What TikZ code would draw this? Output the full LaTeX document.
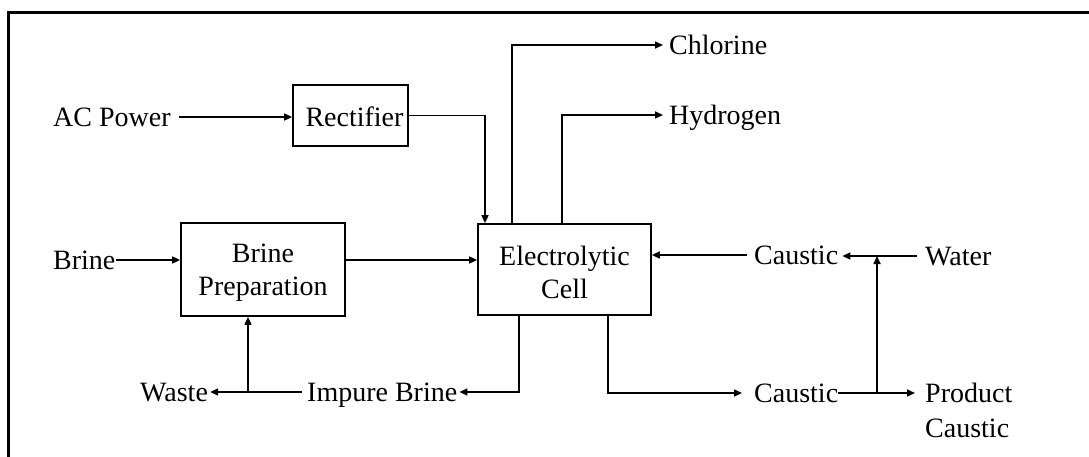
\documentclass[tikz,border=0pt]{standalone}
\usepackage{fontspec}
\setmainfont{Liberation Serif}
\usetikzlibrary{arrows.meta}
\begin{document}
\begin{tikzpicture}[x=1pt,y=-1pt,
  txt/.style={inner sep=0pt, text height=18.5pt, text depth=0pt, font=\fontsize{28}{33}\selectfont},
  txtml/.style={inner sep=0pt, align=left, font=\fontsize{28}{35}\selectfont},
  box/.style={draw, line width=1.7pt, inner sep=0pt},
  boxtext/.style={inner sep=0pt, align=center, font=\fontsize{28}{33}\selectfont},
  arr/.style={line width=1.6pt, -{Triangle[length=8pt,width=7pt]}}]
\useasboundingbox (0,0) rectangle (1089,457);
\draw[line width=3pt] (8.5,457) -- (8.5,12.5) -- (1089,12.5);
% boxes
\node[box, minimum width=115pt, minimum height=61pt] (rect) at (350.5,115.5) {};
\node[boxtext] (recttext) at ([xshift=4pt,yshift=-1pt]rect.center) {Rectifier};
\node[box, minimum width=164pt, minimum height=93pt] (prep) at (263,269.5) {};
\node[boxtext] (preptext) at ([yshift=-3pt]prep.center) {Brine\\Preparation};
\node[box, minimum width=173pt, minimum height=91pt] (cell) at (564.5,269.5) {};
\node[boxtext] (celltext) at ([yshift=-3pt]cell.center) {Electrolytic\\Cell};
% labels
\node[txt, anchor=west] (ac) at (53,117) {AC Power};
\node[txt, anchor=west] (cl) at (669,45) {Chlorine};
\node[txt, anchor=west] (h2) at (669,115) {Hydrogen};
\node[txt, anchor=west] (brine) at (53,260) {Brine};
\node[txt, anchor=west] (caus1) at (754,255) {Caustic};
\node[txt, anchor=west] (water) at (925,256) {Water};
\node[txt, anchor=west] (imp) at (307,392) {Impure Brine};
\node[txt, anchor=west] (waste) at (140,392) {Waste};
\node[txt, anchor=west] (caus2) at (754,393) {Caustic};
\node[txtml, anchor=north west] (prod) at (925,383) {Product\\Caustic};
% helper coordinates
\coordinate (rdown) at ([xshift=-79.5pt]cell.north);
\coordinate (clup) at ([xshift=-52.5pt]cell.north);
\coordinate (h2up) at ([xshift=-2.5pt]cell.north);
\coordinate (impdown) at ([xshift=-45.5pt]cell.south);
\coordinate (causdown) at ([xshift=43.5pt]cell.south);
\coordinate (prodin) at ([xshift=-10pt]prod.north west);
\coordinate (j1) at (248,392);
\coordinate (j2) at (877,393);
% connectors
\draw[arr] ([xshift=8pt]ac.east) -- (rect.west |- ac.east);
\draw[arr] (rect.east) -| (rdown);
\draw[arr] (clup) |- ([xshift=-6pt]cl.west);
\draw[arr] (h2up) |- ([xshift=-6pt]h2.west);
\draw[arr] (brine.east) -- (brine.east -| prep.west);
\draw[arr] (prep.east |- brine.east) -- (cell.west |- brine.east);
\draw[arr] ([xshift=-7pt]caus1.west) -- (caus1.west -| cell.east);
\draw[arr] ([xshift=-8pt]water.west) -- ([xshift=4pt]caus1.east |- water.west);
\draw[arr] (impdown) |- ([xshift=2pt]imp.east);
\draw[arr] ([xshift=-5pt]imp.west) -- ([xshift=2pt]waste.east);
\draw[arr] (j1) -- (j1 |- prep.south);
\draw[arr] (causdown) |- ([xshift=-12pt]caus2.west);
\draw[arr] (caus2.east) -- (caus2.east -| prodin);
\draw[arr] (j2) -- (j2 |- water.west);
\end{tikzpicture}
\end{document}
